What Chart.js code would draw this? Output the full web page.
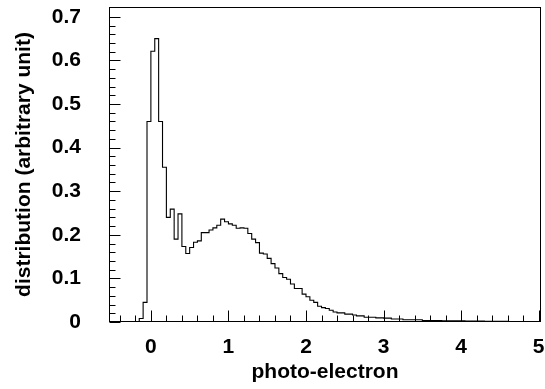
<!DOCTYPE html>
<html>
<head>
<meta charset="utf-8">
<script src="https://cdn.jsdelivr.net/npm/chart.js@4.4.0/dist/chart.umd.min.js"></script>
<style>
  html, body { margin: 0; padding: 0; background: #fff; }
</style>
</head>
<body>
<canvas id="histo" width="545" height="389"></canvas>
<script>
// histogram binning (photo-electron units)
const binStart = -0.15;
const binWidth = 0.05;

// bin contents, one per bin starting at binStart
const counts = [
  0, 0.008, 0.045,
  0.46, 0.621, 0.65, 0.46, 0.355, 0.24, 0.259, 0.19, 0.248, 0.173,
  0.157, 0.171, 0.183, 0.186, 0.205, 0.205, 0.211, 0.216, 0.222, 0.236,
  0.23, 0.225, 0.222, 0.215, 0.216, 0.215, 0.203, 0.19, 0.182, 0.158,
  0.156, 0.146, 0.134, 0.124, 0.111, 0.102, 0.098, 0.087, 0.077, 0.077,
  0.064, 0.058, 0.05, 0.045, 0.036, 0.033, 0.031, 0.027, 0.023, 0.021,
  0.021, 0.018, 0.018, 0.016, 0.014, 0.014, 0.011, 0.011, 0.011, 0.0095,
  0.0095, 0.009, 0.009, 0.007, 0.007, 0.007, 0.005, 0.005, 0.005, 0.005,
  0.005, 0.0035, 0.0035, 0.0035, 0.0035, 0.0035, 0.003, 0.003, 0.003, 0.0028,
  0.0025, 0.0025, 0.0022, 0.0022, 0.002, 0.002, 0.002, 0.0018, 0.0018, 0.0016,
  0.0015, 0.0015, 0.0014, 0.0013, 0.0012, 0.0012, 0.0011, 0.001, 0.001, 0.001
];

const xTickValues = [0, 1, 2, 3, 4, 5];
const yTickValues = [0, 0.1, 0.2, 0.3, 0.4, 0.5, 0.6, 0.7];

const xMin = -0.54, xMax = 5.03;
const yMin = 0, yMax = 0.7225;

const labelFont = { family: "'Liberation Sans', Arial, sans-serif", size: 21, weight: "bold" };

// step points: left edge of every bin, plus the right edge of the last one
const points = counts.map((c, i) => ({ x: binStart + i * binWidth, y: c }));
points.push({ x: binStart + counts.length * binWidth, y: counts[counts.length - 1] });

function noPad(s) {
  s.paddingLeft = 0;
  s.paddingRight = 0;
  s.paddingTop = 0;
  s.paddingBottom = 0;
}

// ROOT-like frame with ticks pointing inwards
const frameTicks = {
  id: "frameTicks",
  afterDraw(chart) {
    const { ctx, chartArea: a, scales: { x, y } } = chart;
    ctx.save();
    ctx.strokeStyle = "#000";
    ctx.lineWidth = 1;
    ctx.strokeRect(Math.round(a.left) + 0.5, Math.round(a.top) + 0.5,
      Math.round(a.right - a.left) - 1, Math.round(a.bottom - a.top) - 1);

    const bottom = Math.round(a.bottom) - 0.5;
    const left = Math.round(a.left) + 0.5;
    ctx.beginPath();
    for (let v = -0.4; v <= 5.001; v += 0.2) {
      const px = Math.round(x.getPixelForValue(v)) + 0.5;
      const major = Math.abs(v - Math.round(v)) < 1e-6;
      ctx.moveTo(px, bottom);
      ctx.lineTo(px, bottom - (major ? 11 : 6));
    }
    for (let v = 0; v <= 0.72; v += 0.02) {
      const py = Math.round(y.getPixelForValue(v)) + 0.5;
      const major = Math.abs(v * 10 - Math.round(v * 10)) < 1e-6;
      ctx.moveTo(left, py);
      ctx.lineTo(left + (major ? 11 : 6), py);
    }
    ctx.stroke();
    ctx.restore();
  }
};

new Chart(document.getElementById("histo"), {
  type: "line",
  data: {
    datasets: [{
      data: points,
      stepped: "after",
      borderColor: "#000",
      borderWidth: 1.1,
      pointRadius: 0,
      fill: false
    }]
  },
  options: {
    responsive: false,
    animation: false,
    devicePixelRatio: 1,
    layout: { padding: { left: 0, top: 7, right: 4, bottom: 0 } },
    plugins: { legend: { display: false }, tooltip: { enabled: false } },
    scales: {
      x: {
        type: "linear",
        min: xMin,
        max: xMax,
        grid: { display: false },
        border: { display: false },
        afterBuildTicks: s => { s.ticks = xTickValues.map(v => ({ value: v })); },
        afterFit: s => { s.height = 67; noPad(s); },
        ticks: { color: "#000", font: labelFont, padding: 5, maxRotation: 0, autoSkip: false },
        title: { display: true, text: "photo-electron", color: "#000", font: labelFont, padding: { top: 0, bottom: 4 } }
      },
      y: {
        type: "linear",
        min: yMin,
        max: yMax,
        grid: { display: false },
        border: { display: false },
        afterBuildTicks: s => { s.ticks = yTickValues.map(v => ({ value: v })); },
        afterFit: s => { s.width = 109; noPad(s); },
        ticks: { color: "#000", font: labelFont, padding: 20, autoSkip: false,
          callback: v => (v === 0 ? "0" : v.toFixed(1)) },
        title: { display: true, text: "distribution (arbitrary unit)", color: "#000", font: labelFont, padding: { top: 12, bottom: 0 } }
      }
    }
  },
  plugins: [frameTicks]
});
</script>
</body>
</html>
